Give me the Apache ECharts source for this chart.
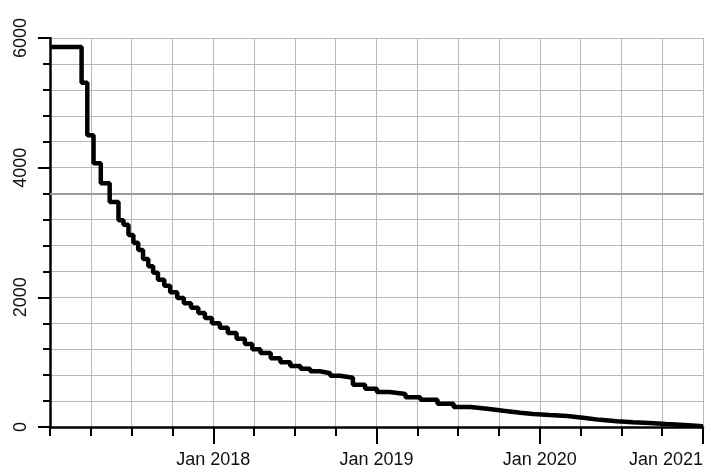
<!DOCTYPE html>
<html>
<head>
<meta charset="utf-8">
<script src="https://cdn.jsdelivr.net/npm/echarts@6/dist/echarts.min.js"></script>
<style>
html,body{margin:0;padding:0;background:#fff;}
#chart{width:711px;height:476px;}
</style>
</head>
<body>
<div id="chart"></div>
<script>
// Step-curve readings (date when the level starts, level value)
var dates = ['2017-01-01','2017-03-11','2017-03-24','2017-04-07','2017-04-23','2017-05-13','2017-06-02','2017-06-13','2017-06-24','2017-07-05',
  '2017-07-16','2017-07-27','2017-08-08','2017-08-19','2017-08-30','2017-09-13','2017-09-26','2017-10-12','2017-10-27','2017-11-12',
  '2017-11-28','2017-12-13','2017-12-29','2018-01-16','2018-02-03','2018-02-21','2018-03-11','2018-03-28','2018-04-15','2018-05-08',
  '2018-05-30','2018-06-21','2018-07-14','2018-08-05','2018-08-27','2018-09-19','2018-10-11','2018-11-09','2018-12-06','2019-01-02',
  '2019-01-31','2019-03-05','2019-04-08','2019-05-16','2019-06-21','2019-07-29','2019-09-05','2019-10-11','2019-11-18','2019-12-17',
  '2020-01-24','2020-03-02','2020-04-11','2020-05-14','2020-06-21','2020-07-27','2020-09-03','2020-10-10','2020-11-20','2020-12-24',
  '2021-01-01'];
var values = [5860,5310,4500,4070,3760,3470,3190,3120,2960,2840,
  2730,2590,2480,2380,2270,2180,2080,1990,1910,1840,
  1760,1680,1600,1530,1450,1360,1280,1200,1140,1060,
  1000,940,900,860,830,790,760,650,590,540,
  510,460,420,360,310,280,250,220,200,185,
  170,140,110,90,75,60,45,30,15,8,
  0];
var xTickLabels = ['Jan 2018','Jan 2019','Jan 2020','Jan 2021'];
var yTickLabels = ['0','2000','4000','6000'];
var refLines = [3600];

var startYear = 2017;
function monthIndex(s){
  var p = s.split('-').map(Number);
  var dim = new Date(p[0], p[1], 0).getDate();
  return (p[0]-startYear)*12 + (p[1]-1) + (p[2]-1)/dim;
}
var seriesData = dates.map(function(d,i){ return [monthIndex(d), values[i]]; });
var majorX = xTickLabels.map(function(t,i){ return (i+1)*12; });

var chart = echarts.init(document.getElementById('chart'), null, {renderer:'canvas'});
var gridColor = '#b8b8b8';
chart.setOption({
  animation:false,
  backgroundColor:'#fff',
  grid:{left:50, top:38, right:8, bottom:49, containLabel:false, outerBoundsMode:'none'},
  xAxis:[{
    type:'value', min:0, max:48, interval:3,
    axisLine:{show:true, lineStyle:{color:'#000', width:2.5}},
    axisTick:{show:true, length:9, lineStyle:{color:'#000', width:2}},
    axisLabel:{show:false},
    splitLine:{show:true, lineStyle:{color:gridColor, width:1}}
  },{
    type:'value', min:0, max:48, interval:12, position:'bottom',
    axisLine:{show:false},
    axisTick:{show:true, length:17, customValues:majorX, lineStyle:{color:'#000', width:2}},
    axisLabel:{show:true, customValues:majorX, margin:24, color:'#111', fontSize:18,
      fontFamily:'Liberation Sans, Arial, sans-serif', alignMaxLabel:'right', hideOverlap:false,
      formatter:function(v){ var k = Math.round(v/12)-1; return xTickLabels[k] || ''; }},
    splitLine:{show:false}
  }],
  yAxis:{
    type:'value', min:0, max:6000, interval:2000,
    axisLine:{show:true, lineStyle:{color:'#000', width:2.5}},
    axisTick:{show:true, length:12, lineStyle:{color:'#000', width:2}},
    minorTick:{show:true, splitNumber:5, length:7, lineStyle:{color:'#000', width:2}},
    minorSplitLine:{show:true, lineStyle:{color:gridColor, width:1}},
    splitLine:{show:true, lineStyle:{color:gridColor, width:1}},
    axisLabel:{show:true, rotate:90, margin:20, color:'#111', fontSize:18,
      fontFamily:'Liberation Sans, Arial, sans-serif',
      align:'center', verticalAlign:'bottom',
      formatter:function(v){ var k = Math.round(v/2000); return yTickLabels[k]; }}
  },
  series:[{
    type:'line', xAxisIndex:0, step:'end', showSymbol:false, symbol:'none',
    data:seriesData,
    lineStyle:{color:'#000', width:4.5},
    markLine:{silent:true, symbol:'none', label:{show:false},
      lineStyle:{color:'#9a9a9a', width:2, type:'solid'},
      data:refLines.map(function(v){ return {yAxis:v}; })},
    z:5
  }]
});
</script>
</body>
</html>
